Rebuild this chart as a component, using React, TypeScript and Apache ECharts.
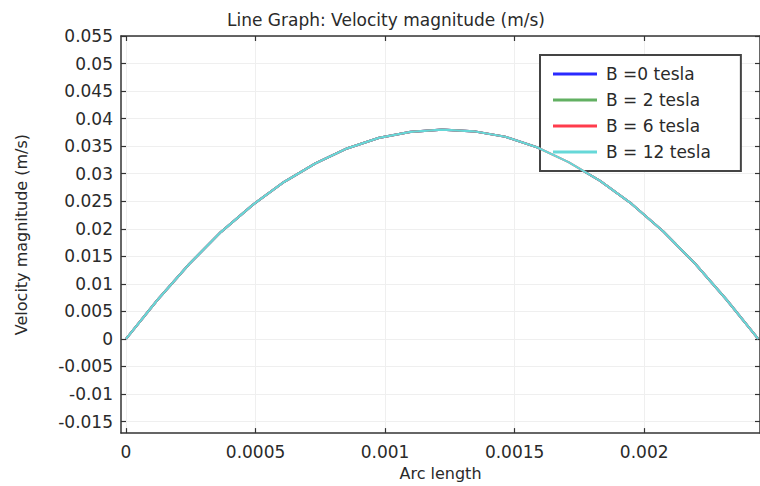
import React, { useEffect, useRef } from "react";
import * as echarts from "echarts";

const arcLength = [
  0, 0.000122, 0.000244, 0.000366, 0.000488, 0.00061, 0.000732, 0.000854, 0.000976, 0.001098,
  0.00122, 0.001342, 0.001464, 0.001586, 0.001708, 0.00183, 0.001952, 0.002074, 0.002196, 0.002318,
  0.00244,
];
const velB0 = [
  0, 0.0071, 0.0136, 0.0194, 0.0243, 0.0285, 0.0319, 0.0346, 0.0365, 0.0376,
  0.038, 0.0377, 0.0367, 0.0348, 0.0321, 0.0287, 0.0245, 0.0195, 0.0137, 0.0071, 0,
];
const velB2 = [
  0, 0.0071, 0.0136, 0.0194, 0.0243, 0.0285, 0.0319, 0.0346, 0.0365, 0.0376,
  0.038, 0.0377, 0.0367, 0.0348, 0.0321, 0.0287, 0.0245, 0.0195, 0.0137, 0.0071, 0,
];
const velB6 = [
  0, 0.0071, 0.0136, 0.0194, 0.0243, 0.0285, 0.0319, 0.0346, 0.0365, 0.0376,
  0.038, 0.0377, 0.0367, 0.0348, 0.0321, 0.0287, 0.0245, 0.0195, 0.0137, 0.0071, 0,
];
const velB12 = [
  0, 0.0071, 0.0136, 0.0194, 0.0243, 0.0285, 0.0319, 0.0346, 0.0365, 0.0376,
  0.038, 0.0377, 0.0367, 0.0348, 0.0321, 0.0287, 0.0245, 0.0195, 0.0137, 0.0071, 0,
];
const seriesNames = ["B =0 tesla", "B = 2 tesla", "B = 6 tesla", "B = 12 tesla"];
const seriesColors = ["#2a2aff", "#62b062", "#ff3c4c", "#66d8d8"];
const xTicks = [0, 0.0005, 0.001, 0.0015, 0.002];
const yTicks = [
  -0.015, -0.01, -0.005, 0, 0.005, 0.01, 0.015, 0.02, 0.025, 0.03, 0.035, 0.04, 0.045, 0.05, 0.055,
];

const FONT = "DejaVu Sans";
const TEXT = "#2a2a2a";

export default function App() {
  const ref = useRef<HTMLDivElement>(null);
  useEffect(() => {
    if (!ref.current) return;
    const chart = echarts.init(ref.current, undefined, { renderer: "svg" });
    const values = [velB0, velB2, velB6, velB12];
    const xMin = -0.0000193;
    const xMax = 0.002447;
    const yMin = -0.0171;
    const yMax = 0.055;
    const axisLine = { show: true, onZero: false, lineStyle: { color: "#333", width: 1.5 } };
    const tickIn = (vals: number[]) => ({
      show: true,
      inside: true,
      length: 5,
      customValues: vals,
      lineStyle: { color: "#333", width: 1.2 },
    });
    chart.setOption({
      animation: false,
      backgroundColor: "#fff",
      title: {
        text: "Line Graph: Velocity magnitude (m/s)",
        left: 222,
        top: 6,
        textStyle: { fontFamily: FONT, fontSize: 17, fontWeight: "normal", color: TEXT },
      },
      legend: {
        orient: "vertical",
        left: 540,
        top: 55,
        padding: [9, 30, 9, 13],
        itemWidth: 44,
        itemHeight: 3,
        itemGap: 6,
        icon: "rect",
        backgroundColor: "#fff",
        borderColor: "#444",
        borderWidth: 2,
        textStyle: {
          fontFamily: FONT,
          fontSize: 17,
          color: TEXT,
          lineHeight: 20,
          padding: [0, 0, 0, 4],
        },
        data: seriesNames,
      },
      grid: { left: 121, top: 36, width: 641, height: 404, containLabel: false },
      xAxis: [
        {
          type: "value",
          min: xMin,
          max: xMax,
          position: "bottom",
          name: "Arc length",
          nameLocation: "middle",
          nameGap: 26,
          nameTextStyle: { fontFamily: FONT, fontSize: 16, color: TEXT },
          axisLine,
          axisTick: tickIn(xTicks),
          axisLabel: {
            customValues: xTicks,
            fontFamily: FONT,
            fontSize: 17,
            color: TEXT,
            margin: 10,
            formatter: (v: number) => String(v),
          },
          splitLine: { show: true, lineStyle: { color: "#efefef", width: 1 } },
        },
        {
          type: "value",
          min: xMin,
          max: xMax,
          position: "top",
          axisLine,
          axisTick: tickIn(xTicks),
          axisLabel: { show: false, customValues: xTicks },
          splitLine: { show: false },
        },
      ],
      yAxis: [
        {
          type: "value",
          min: yMin,
          max: yMax,
          position: "left",
          name: "Velocity magnitude (m/s)",
          nameLocation: "middle",
          nameGap: 92,
          nameRotate: 90,
          nameTextStyle: { fontFamily: FONT, fontSize: 16, color: TEXT },
          axisLine,
          axisTick: tickIn(yTicks),
          axisLabel: {
            customValues: yTicks,
            fontFamily: FONT,
            fontSize: 17,
            color: TEXT,
            margin: 8,
            formatter: (v: number) => String(v),
          },
          splitLine: { show: true, lineStyle: { color: "#efefef", width: 1 } },
        },
        {
          type: "value",
          min: yMin,
          max: yMax,
          position: "right",
          axisLine,
          axisTick: tickIn(yTicks),
          axisLabel: { show: false, customValues: yTicks },
          splitLine: { show: false },
        },
      ],
      series: values.map((vals, i) => ({
        name: seriesNames[i],
        type: "line",
        xAxisIndex: 0,
        yAxisIndex: 0,
        showSymbol: false,
        symbol: "none",
        data: arcLength.map((x, j) => [x, vals[j]]),
        lineStyle: { color: seriesColors[i], width: 2.2 },
        itemStyle: { color: seriesColors[i] },
        z: 2 + i,
      })),
    });
    return () => chart.dispose();
  }, []);
  return (
    <div
      ref={ref}
      style={{ position: "absolute", left: 0, top: 0, width: 760, height: 486 }}
    />
  );
}
